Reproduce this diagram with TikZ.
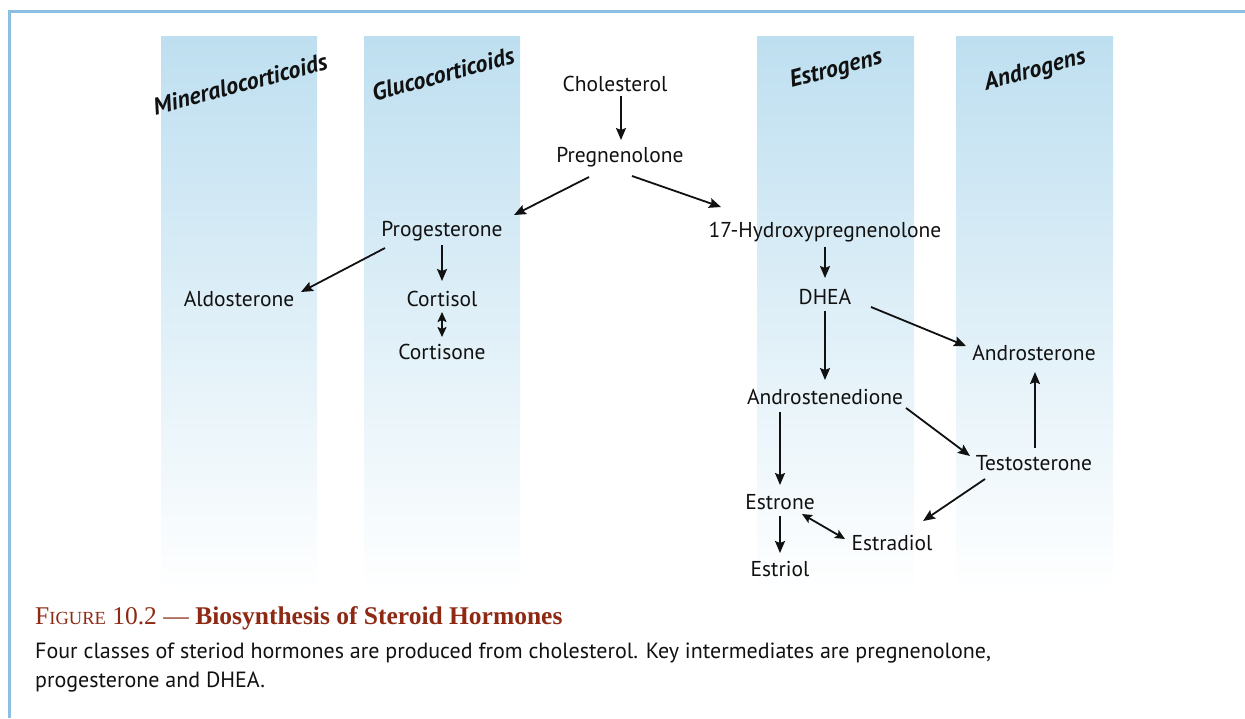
\documentclass[tikz,border=0pt]{standalone}
\usepackage{fontspec}
\usetikzlibrary{
  arrows.meta
}
\newfontfamily\labelfont{PT Sans}
\newfontfamily\titlefont{Liberation Serif}
\definecolor{inkC}{HTML}{111111}
\definecolor{frameC}{HTML}{8BBEE0}
\definecolor{bandC}{HTML}{BEDFF0}
\definecolor{titleC}{HTML}{8E2A14}

\tikzset{
  chem/.style={font=\labelfont\fontsize{21.5}{25}\selectfont, text=inkC, inner sep=2pt},
  classhead/.style={font=\labelfont\bfseries\itshape\fontsize{24}{28}\selectfont, text=inkC, rotate=15},
  arr/.style={draw=inkC, line width=1.8pt, -{Stealth[length=12pt,width=10pt,inset=2pt]}},
  dblarr/.style={draw=inkC, line width=1.8pt,
    {Stealth[length=10pt,width=9pt,inset=2pt]}-{Stealth[length=10pt,width=9pt,inset=2pt]}}
}

\begin{document}
\begin{tikzpicture}[
  x=1pt,
  y=-1pt,
  line cap=butt
]

\useasboundingbox (0,0) rectangle (1245,718);

% Frame (only top and left edge in view).
\draw[frameC, line width=3pt] (9,718) -- (9,11) -- (1245,11);

% Class bands, fading towards the caption.
\foreach \xa/\xb in {161/317, 364/520, 757/914, 956/1113}{
  \shade[top color=bandC, middle color=bandC!62!white, bottom color=white]
    (\xa,36) rectangle (\xb,594);
}

% Band headings.
\node[classhead] (mineral) at (240,84) {Mineralocorticoids};
\node[classhead] (gluco) at (443,74) {Glucocorticoids};
\node[classhead] (estro) at (836,70) {Estrogens};
\node[classhead] (andro) at (1035,71) {Androgens};

% Compounds.
\node[chem] (chol) at (615,84) {Cholesterol};
\node[chem] (preg) at (620,157) {Pregnenolone};
\node[chem] (prog) at (442,231) {Progesterone};
\node[chem] (hyd) at (825,232) {17-Hydroxypregnenolone};
\node[chem] (aldo) at (239,299) {Aldosterone};
\node[chem] (cortisol) at (442,299) {Cortisol};
\node[chem] (cortisone) at (442,352) {Cortisone};
\node[chem] (dhea) at (825,297) {DHEA};
\node[chem] (asterone) at (1034,353) {Androsterone};
\node[chem] (adione) at (825,397) {Androstenedione};
\node[chem] (testo) at (1034,463) {Testosterone};
\node[chem] (estrone) at (780,502) {Estrone};
\node[chem] (estradiol) at (892,543) {Estradiol};
\node[chem] (estriol) at (780,569) {Estriol};

% Pathway arrows.
\draw[arr] ([shift={(6,12)}]chol.center) -- ([shift={(1,-17)}]preg.center);
\draw[arr] ([shift={(-31,20)}]preg.center) -- ([shift={(72,-16)}]prog.center);
\draw[arr] ([shift={(12,19)}]preg.center) -- ([shift={(-104,-25)}]hyd.center);
\draw[arr] ([shift={(-57,17)}]prog.center) -- ([shift={(62,-7)}]aldo.center);
\draw[arr] ([shift={(0,14)}]prog.center) -- ([shift={(0,-18)}]cortisol.center);
\draw[dblarr] ([shift={(0,13)}]cortisol.center) -- ([shift={(0,-15)}]cortisone.center);
\draw[arr] ([shift={(0,15)}]hyd.center) -- ([shift={(0,-19)}]dhea.center);
\draw[arr] ([shift={(0,14)}]dhea.center) -- ([shift={(0,-17)}]adione.center);
\draw[arr] ([shift={(46,10)}]dhea.center) -- ([shift={(-68,-7)}]asterone.center);
\draw[arr] ([shift={(-45,15)}]adione.center) -- ([shift={(0,-17)}]estrone.center);
\draw[arr] ([shift={(81,11)}]adione.center) -- ([shift={(-64,-7)}]testo.center);
\draw[arr] ([shift={(1,-15)}]testo.center) -- ([shift={(1,19)}]asterone.center);
\draw[arr] ([shift={(-49,16)}]testo.center) -- ([shift={(31,-22)}]estradiol.center);
\draw[dblarr] ([shift={(22,12)}]estrone.center) -- ([shift={(-47,-4)}]estradiol.center);
\draw[arr] ([shift={(0,14)}]estrone.center) -- ([shift={(0,-16)}]estriol.center);

% Caption.
\node[anchor=base west, inner sep=0pt, text=titleC, font=\titlefont\fontsize{25.5}{30}\selectfont]
  (title) at (35,624)
  {F{\fontsize{18.5}{22}\selectfont IGURE} 10.2 \textemdash{} \textbf{Biosynthesis of Steroid Hormones}};
\node[anchor=base west, inner sep=0pt, align=left, text=inkC,
  font=\labelfont\fontsize{22}{29}\selectfont]
  (caption) at (35,687)
  {Four classes of steriod hormones are produced from cholesterol. Key intermediates are pregnenolone,\\
   progesterone and DHEA.};

\end{tikzpicture}
\end{document}
